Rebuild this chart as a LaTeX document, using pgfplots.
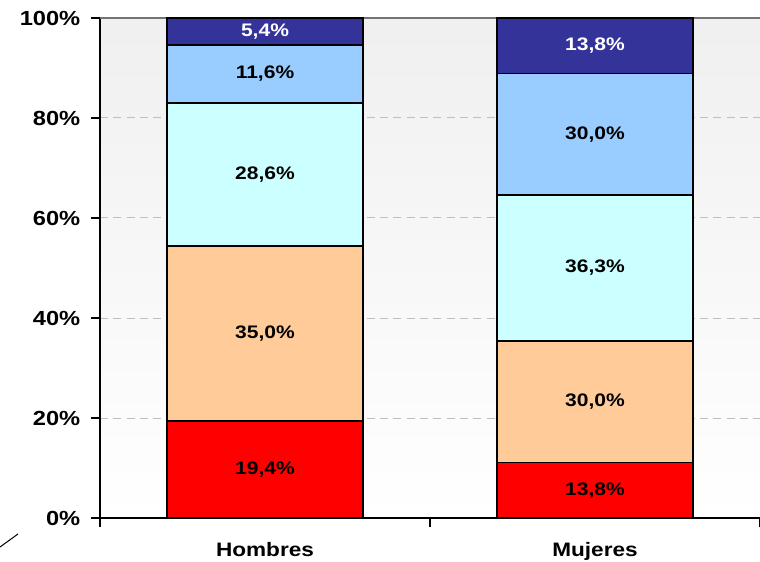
\documentclass[border=0pt]{standalone}
\usepackage{pgfplots}
\pgfplotsset{compat=1.18}
\usepackage{pgfplotstable}
\usepackage{fontspec}
\setmainfont{Liberation Sans}[FakeStretch=1.16]
\definecolor{cRed}{HTML}{FF0000}
\definecolor{cOrange}{HTML}{FFCC99}
\definecolor{cCyan}{HTML}{CCFFFF}
\definecolor{cLBlue}{HTML}{99CCFF}
\definecolor{cDBlue}{HTML}{333399}
% s = plotted share (Mujeres normalised to 100), l = printed label
\pgfplotstableread{
x s1 l1 s2 l2 s3 l3 s4 l4 s5 l5
0 19.4 19.4 35.0 35.0 28.6 28.6 11.6 11.6 5.4 5.4
1 11.138 13.8 24.213 30.0 29.298 36.3 24.213 30.0 11.138 13.8
}\data
\pgfplotsset{seg/.style n args={3}{fill=#2, draw=black, line width=1.2pt,
  point meta=\thisrow{l#1},
  nodes near coords={\pgfmathprintnumber[fixed,fixed zerofill,precision=1,use comma,assume math mode=true]{\pgfplotspointmeta}\%},
  every node near coord/.append style={anchor=center, inner sep=0pt,
    font=\fontsize{13.6}{14}\selectfont\bfseries, text=#3}}}
\begin{document}
\begin{tikzpicture}
\useasboundingbox (-75pt,-32.25pt) rectangle (495pt,388.5pt);
\begin{axis}[
  at={(0,0)}, anchor=south west,
  scale only axis, width=495pt, height=375pt,
  ybar stacked, bar width=147pt,
  xmin=-0.5, xmax=1.5, ymin=0, ymax=100,
  axis x line*=bottom, axis y line*=left,
  axis line style={black, line width=1.5pt},
  axis background/.style={top color=black!6, bottom color=white},
  ytick={0,20,40,60,80,100},
  yticklabels={0\%,20\%,40\%,60\%,80\%,100\%},
  yticklabel style={font=\fontsize{15.3}{16}\selectfont\bfseries, xshift=-4.5pt},
  ymajorgrids, grid style={black!25, line width=0.75pt, dash pattern=on 6pt off 4pt},
  xtick={-0.5,0.5,1.5}, xticklabels={},
  extra x ticks={0,1}, extra x tick labels={Hombres,Mujeres},
  extra x tick style={tick style={draw=none}},
  xticklabel style={font=\fontsize{14.6}{15}\selectfont\bfseries, yshift=-8pt},
  tick align=outside, major tick length=6.75pt,
  tick style={black, line width=1pt},
]
\addplot[seg={1}{cRed}{black}] table[x=x, y=s1] {\data};
\addplot[seg={2}{cOrange}{black}] table[x=x, y=s2] {\data};
\addplot[seg={3}{cCyan}{black}] table[x=x, y=s3] {\data};
\addplot[seg={4}{cLBlue}{black}] table[x=x, y=s4] {\data};
\addplot[seg={5}{cDBlue}{white}] table[x=x, y=s5] {\data};
\draw[black!55, line width=1pt] (rel axis cs:0,1) -- (rel axis cs:1,1);
\end{axis}
\draw[black, line width=0.75pt] (-75pt,-21.75pt) -- (-61.5pt,-12pt);
\end{tikzpicture}
\end{document}
